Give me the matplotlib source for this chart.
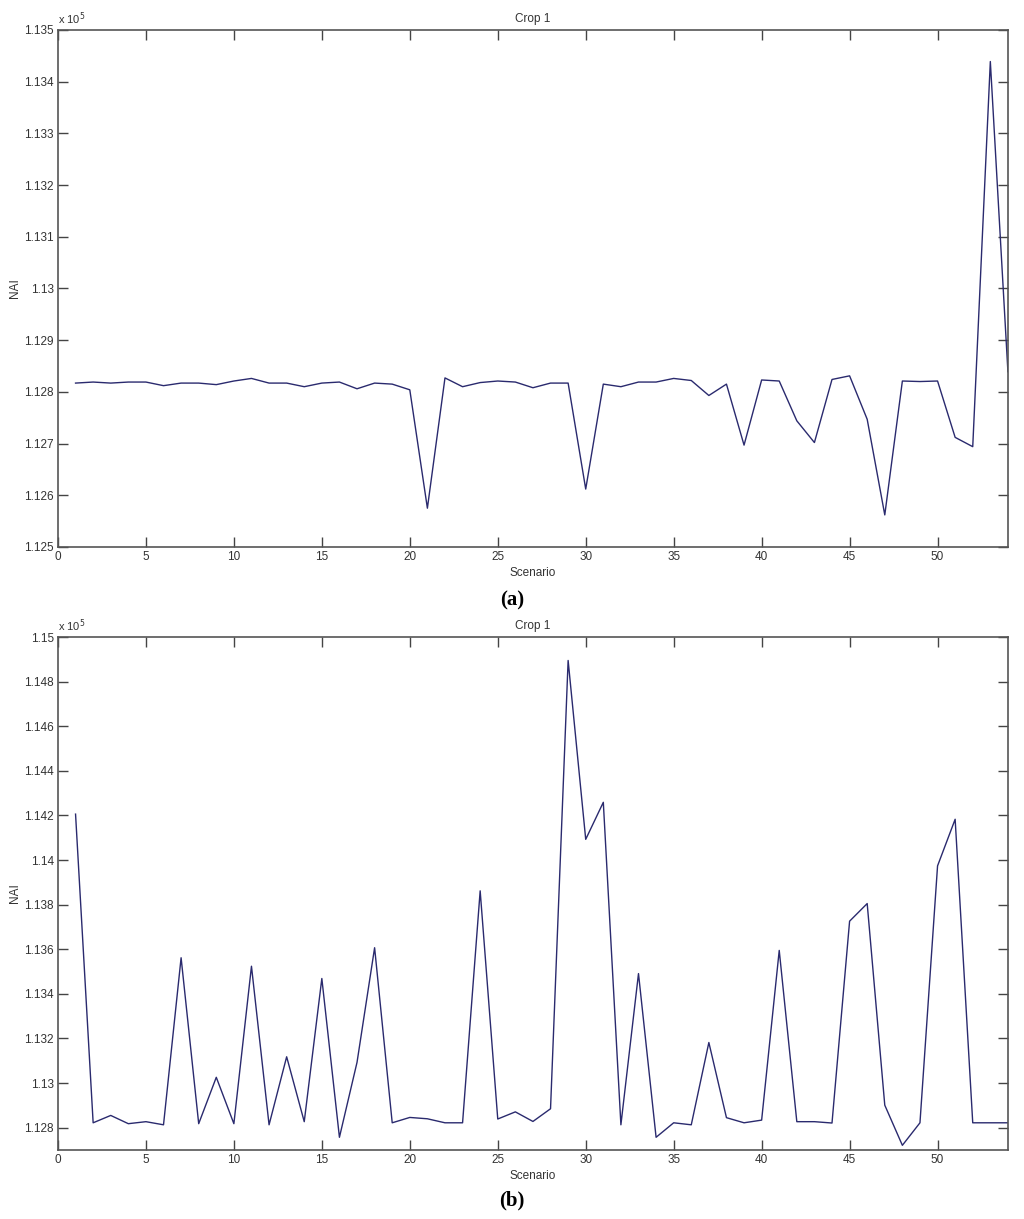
import matplotlib.pyplot as plt
import numpy as np

plt.rcParams['font.family'] = ['Liberation Sans', 'DejaVu Sans']

# scenario numbers and NAI values (x 10^5)
scenario = list(range(1, 55))

nai_a = [1.12817, 1.12819, 1.12817, 1.12819, 1.12819, 1.12812, 1.12817, 1.12817, 1.12814, 1.12821,
         1.12826, 1.12817, 1.12817, 1.12810, 1.12817, 1.12819, 1.12806, 1.12817, 1.12815, 1.12804,
         1.12575, 1.12827, 1.12810, 1.12818, 1.12821, 1.12819, 1.12808, 1.12817, 1.12817, 1.12612,
         1.12815, 1.12810, 1.12819, 1.12819, 1.12826, 1.12822, 1.12793, 1.12815, 1.12697, 1.12823,
         1.12821, 1.12744, 1.12702, 1.12824, 1.12831, 1.12747, 1.12562, 1.12821, 1.12820, 1.12821,
         1.12712, 1.12694, 1.13439, 1.12839]

nai_b = [1.14206, 1.12822, 1.12855, 1.12818, 1.12827, 1.12813, 1.13562, 1.12818, 1.13026, 1.12818,
         1.13524, 1.12813, 1.13118, 1.12827, 1.13469, 1.12757, 1.13093, 1.13607, 1.12822, 1.12846,
         1.12840, 1.12822, 1.12822, 1.13862, 1.12839, 1.12871, 1.12828, 1.12885, 1.14895, 1.14093,
         1.14259, 1.12813, 1.13491, 1.12757, 1.12822, 1.12813, 1.13182, 1.12845, 1.12822, 1.12834,
         1.13595, 1.12827, 1.12827, 1.12821, 1.13726, 1.13805, 1.12901, 1.12721, 1.12822, 1.13974,
         1.14183, 1.12822, 1.12822, 1.12822]

xticks = [0, 5, 10, 15, 20, 25, 30, 35, 40, 45, 50]
yticks_a = [1.125, 1.126, 1.127, 1.128, 1.129, 1.130, 1.131, 1.132, 1.133, 1.134, 1.135]
yticks_b = [1.128, 1.130, 1.132, 1.134, 1.136, 1.138, 1.140, 1.142, 1.144, 1.146, 1.148, 1.150]

line_color = '#2a2a6e'
txt_color = '#333333'

fig = plt.figure(figsize=(10.24, 12.19), dpi=100)
ax_a = fig.add_axes([0.0566, 0.5513, 0.9277, 0.4241])
ax_b = fig.add_axes([0.0566, 0.0566, 0.9277, 0.4208])


def style_axes(ax, yvals, yticks, ylim):
    ax.plot(scenario, yvals, color=line_color, lw=1.0)
    ax.set_xlim(0, 54)
    ax.set_ylim(*ylim)
    ax.set_xticks(xticks)
    ax.set_xticklabels([str(t) for t in xticks])
    ax.set_yticks(yticks)
    ax.set_yticklabels(['%g' % t for t in yticks])
    ax.tick_params(direction='in', length=7.5, width=1, top=True, right=True,
                   labelsize=8.5, colors='#444444', labelcolor=txt_color, pad=3)
    for sp in ax.spines.values():
        sp.set_color('#555555')
        sp.set_linewidth(1.2)
    ax.set_title('Crop 1', fontsize=8.5, color=txt_color, pad=6)
    ax.set_xlabel('Scenario', fontsize=8.5, color=txt_color, labelpad=3)
    ax.set_ylabel('NAI', fontsize=8.5, color=txt_color, labelpad=2)
    ax.text(0.0, 1.006, r'x 10$^5$', transform=ax.transAxes, fontsize=8,
            color=txt_color, ha='left', va='bottom')


style_axes(ax_a, nai_a, yticks_a, (1.125, 1.135))
style_axes(ax_b, nai_b, yticks_b, (1.127, 1.150))

fig.text(0.5, 1 - 600 / 1219, '(a)', fontsize=15, fontweight='bold',
         family='Liberation Serif', ha='center', va='center')
fig.text(0.5, 1 - 1200 / 1219, '(b)', fontsize=15, fontweight='bold',
         family='Liberation Serif', ha='center', va='center')

fig.savefig('out.png', dpi=100)
